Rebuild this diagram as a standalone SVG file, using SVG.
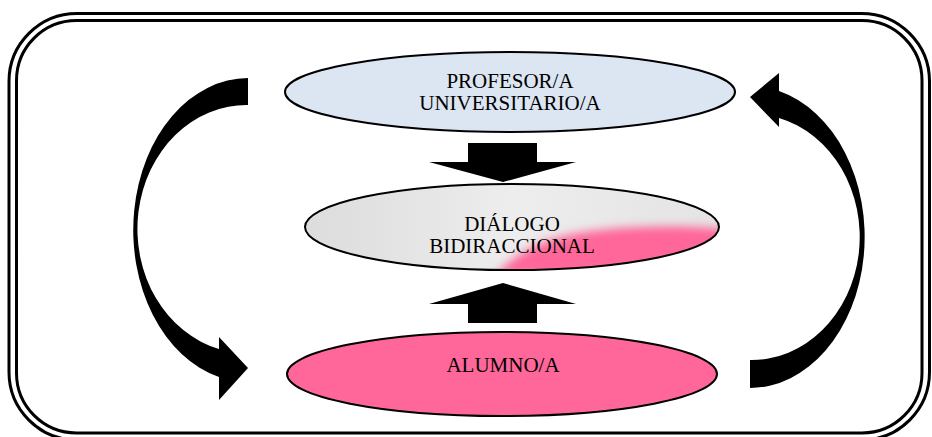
<svg xmlns="http://www.w3.org/2000/svg" width="932" height="437" viewBox="0 0 932 437">
<style>
.frame{fill:none;stroke:#000;stroke-width:3}
.node{stroke:#000;stroke-width:2}
.lbl{font-family:"Liberation Serif","Times New Roman",serif;font-size:21px;fill:#000;text-anchor:middle}
.arr{fill:#000;stroke:none}
</style>
<defs>
<linearGradient id="gray" x1="0" y1="0" x2="1" y2="0">
<stop offset="0" stop-color="#dcdcdc"/>
<stop offset="0.5" stop-color="#ededed"/>
<stop offset="1" stop-color="#e4e4e4"/>
</linearGradient>
<clipPath id="midclip"><ellipse cx="512" cy="227" rx="207" ry="43"/></clipPath>
<filter id="blur" x="-20%" y="-50%" width="140%" height="200%"><feGaussianBlur stdDeviation="5"/></filter>
</defs>
<rect width="932" height="437" fill="#fff"/>
<g id="frame">
<rect class="frame" x="9" y="13.5" width="920.5" height="426.5" rx="68" ry="68"/>
<rect class="frame" x="16.5" y="20.5" width="905.5" height="412.5" rx="60" ry="60"/>
</g>
<g id="connectors">
<path class="arr" d="M468,143 L537,143 L537,162 L576,162 L503,182 L429,162 L468,162 Z"/>
<path class="arr" d="M503,283 L576,304 L537,304 L537,323 L468,323 L468,304 L429,304 Z"/>
<path class="arr" d="M248,78 A115,152 0 0 0 219,377 L219,400 L248,368 L219,337 L219,349 A109,124 0 0 1 248,105 Z"/>
<path class="arr" d="M750,388 A115,151 0 0 0 779,91 L779,73 L750,97 L779,127 L779,118 A108,123 0 0 1 750,360 Z"/>
</g>
<g id="node-profesor">
<ellipse class="node" cx="510" cy="92" rx="225" ry="40" fill="#dce6f2"/>
<text class="lbl" x="510" y="88">PROFESOR/A</text>
<text class="lbl" x="510" y="110">UNIVERSITARIO/A</text>
</g>
<g id="node-dialogo">
<ellipse cx="512" cy="227" rx="207" ry="43" fill="url(#gray)"/>
<g clip-path="url(#midclip)">
<path d="M495,275 C520,250 545,236 600,230 C650,225 700,226 730,230 L730,280 Z" fill="#ff6699" filter="url(#blur)"/>
</g>
<ellipse class="node" cx="512" cy="227" rx="207" ry="43" fill="none"/>
<text class="lbl" x="512" y="231">DIÁLOGO</text>
<text class="lbl" x="512" y="253">BIDIRACCIONAL</text>
</g>
<g id="node-alumno">
<ellipse class="node" cx="502" cy="374" rx="215" ry="42" fill="#ff6699"/>
<text class="lbl" x="503" y="372">ALUMNO/A</text>
</g>
</svg>
